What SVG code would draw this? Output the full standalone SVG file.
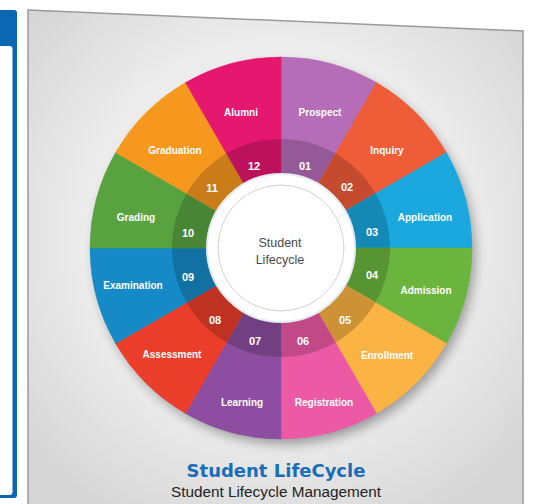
<svg xmlns="http://www.w3.org/2000/svg" width="542" height="504" viewBox="0 0 542 504">
<defs>
<radialGradient id="bg" cx="0.5" cy="0.45" r="0.65">
<stop offset="0" stop-color="#f6f6f6"/>
<stop offset="0.6" stop-color="#ececec"/>
<stop offset="1" stop-color="#d6d6d6"/>
</radialGradient>
<filter id="blur" x="-20%" y="-20%" width="140%" height="140%"><feGaussianBlur stdDeviation="6"/></filter>
<style>
.lbl{font-family:"Liberation Sans",Arial,sans-serif;font-size:10px;font-weight:bold;fill:#fff;text-anchor:middle}
.num{font-family:"Liberation Sans",Arial,sans-serif;font-size:11px;font-weight:bold;fill:#fff;text-anchor:middle}
.band{fill:#000;fill-opacity:0.18}
.ctr{font-family:"Liberation Sans",Arial,sans-serif;font-size:12.5px;fill:#4a4a4a;text-anchor:middle}
</style>
</defs>
<!-- left blue panel -->
<rect x="-10" y="10" width="27" height="488" rx="3" fill="#0b67b3"/>
<rect x="-10" y="46" width="22.5" height="449" rx="3" fill="#ffffff"/>
<!-- gray panel -->
<polygon points="28,10 523,31 523,510 28,510" fill="url(#bg)" stroke="#9a9a9a" stroke-width="1.5"/>
<!-- wheel shadow -->
<circle cx="285" cy="254" r="190" fill="#000" opacity="0.35" filter="url(#blur)"/>
<g id="prospect">
<path d="M281 248 L281 57 A191 191 0 0 1 376.5 82.59 Z" fill="#b56db8" stroke="#b56db8" stroke-width="0.5"/>
<path class="band" d="M281 248 L281 139 A109 109 0 0 1 335.5 153.6 Z"/>
<text class="lbl" x="320" y="115.5">Prospect</text><text class="num" x="305" y="170">01</text>
</g>
<g id="inquiry">
<path d="M281 248 L376.5 82.59 A191 191 0 0 1 446.41 152.5 Z" fill="#ef5c38" stroke="#ef5c38" stroke-width="0.5"/>
<path class="band" d="M281 248 L335.5 153.6 A109 109 0 0 1 375.4 193.5 Z"/>
<text class="lbl" x="387" y="153.5">Inquiry</text><text class="num" x="347" y="191">02</text>
</g>
<g id="application">
<path d="M281 248 L446.41 152.5 A191 191 0 0 1 472 248 Z" fill="#1aa8df" stroke="#1aa8df" stroke-width="0.5"/>
<path class="band" d="M281 248 L375.4 193.5 A109 109 0 0 1 390 248 Z"/>
<text class="lbl" x="425" y="220.5">Application</text><text class="num" x="372" y="236">03</text>
</g>
<g id="admission">
<path d="M281 248 L472 248 A191 191 0 0 1 446.41 343.5 Z" fill="#6bb53e" stroke="#6bb53e" stroke-width="0.5"/>
<path class="band" d="M281 248 L390 248 A109 109 0 0 1 375.4 302.5 Z"/>
<text class="lbl" x="426" y="293.5">Admission</text><text class="num" x="372" y="279">04</text>
</g>
<g id="enrollment">
<path d="M281 248 L446.41 343.5 A191 191 0 0 1 376.5 413.41 Z" fill="#fbb343" stroke="#fbb343" stroke-width="0.5"/>
<path class="band" d="M281 248 L375.4 302.5 A109 109 0 0 1 335.5 342.4 Z"/>
<text class="lbl" x="387" y="358.5">Enrollment</text><text class="num" x="345" y="324">05</text>
</g>
<g id="registration">
<path d="M281 248 L376.5 413.41 A191 191 0 0 1 281 439 Z" fill="#ec5aa6" stroke="#ec5aa6" stroke-width="0.5"/>
<path class="band" d="M281 248 L335.5 342.4 A109 109 0 0 1 281 357 Z"/>
<text class="lbl" x="324" y="405.5">Registration</text><text class="num" x="303" y="345">06</text>
</g>
<g id="learning">
<path d="M281 248 L281 439 A191 191 0 0 1 185.5 413.41 Z" fill="#8d4da0" stroke="#8d4da0" stroke-width="0.5"/>
<path class="band" d="M281 248 L281 357 A109 109 0 0 1 226.5 342.4 Z"/>
<text class="lbl" x="242" y="406">Learning</text><text class="num" x="255" y="345">07</text>
</g>
<g id="assessment">
<path d="M281 248 L185.5 413.41 A191 191 0 0 1 115.59 343.5 Z" fill="#ea3d2a" stroke="#ea3d2a" stroke-width="0.5"/>
<path class="band" d="M281 248 L226.5 342.4 A109 109 0 0 1 186.6 302.5 Z"/>
<text class="lbl" x="172" y="357.5">Assessment</text><text class="num" x="215" y="324">08</text>
</g>
<g id="examination">
<path d="M281 248 L115.59 343.5 A191 191 0 0 1 90 248 Z" fill="#168ac6" stroke="#168ac6" stroke-width="0.5"/>
<path class="band" d="M281 248 L186.6 302.5 A109 109 0 0 1 172 248 Z"/>
<text class="lbl" x="133" y="288.5">Examination</text><text class="num" x="188" y="281">09</text>
</g>
<g id="grading">
<path d="M281 248 L90 248 A191 191 0 0 1 115.59 152.5 Z" fill="#58a340" stroke="#58a340" stroke-width="0.5"/>
<path class="band" d="M281 248 L172 248 A109 109 0 0 1 186.6 193.5 Z"/>
<text class="lbl" x="136" y="220.5">Grading</text><text class="num" x="188" y="237">10</text>
</g>
<g id="graduation">
<path d="M281 248 L115.59 152.5 A191 191 0 0 1 185.5 82.59 Z" fill="#f6981e" stroke="#f6981e" stroke-width="0.5"/>
<path class="band" d="M281 248 L186.6 193.5 A109 109 0 0 1 226.5 153.6 Z"/>
<text class="lbl" x="175" y="154">Graduation</text><text class="num" x="212" y="192">11</text>
</g>
<g id="alumni">
<path d="M281 248 L185.5 82.59 A191 191 0 0 1 281 57 Z" fill="#e5176f" stroke="#e5176f" stroke-width="0.5"/>
<path class="band" d="M281 248 L226.5 153.6 A109 109 0 0 1 281 139 Z"/>
<text class="lbl" x="241" y="115.5">Alumni</text><text class="num" x="254" y="170">12</text>
</g>
<g id="center">
<circle cx="281" cy="248" r="74" fill="#ffffff" stroke="#e4ebf0" stroke-width="2"/>
<circle cx="281" cy="248" r="63" fill="none" stroke="#d2d2d2" stroke-width="1"/>
<text class="ctr" x="280" y="247">Student</text>
<text class="ctr" x="280" y="264">Lifecycle</text>
</g>
<g id="caption">
<text x="276" y="477" text-anchor="middle" font-family="'DejaVu Sans',sans-serif" font-weight="bold" font-size="18" fill="#1a6db6">Student LifeCycle</text>
<text x="276" y="497" text-anchor="middle" font-family="'Liberation Sans',Arial,sans-serif" font-size="15.3" fill="#222">Student Lifecycle Management</text>
</g>
</svg>
